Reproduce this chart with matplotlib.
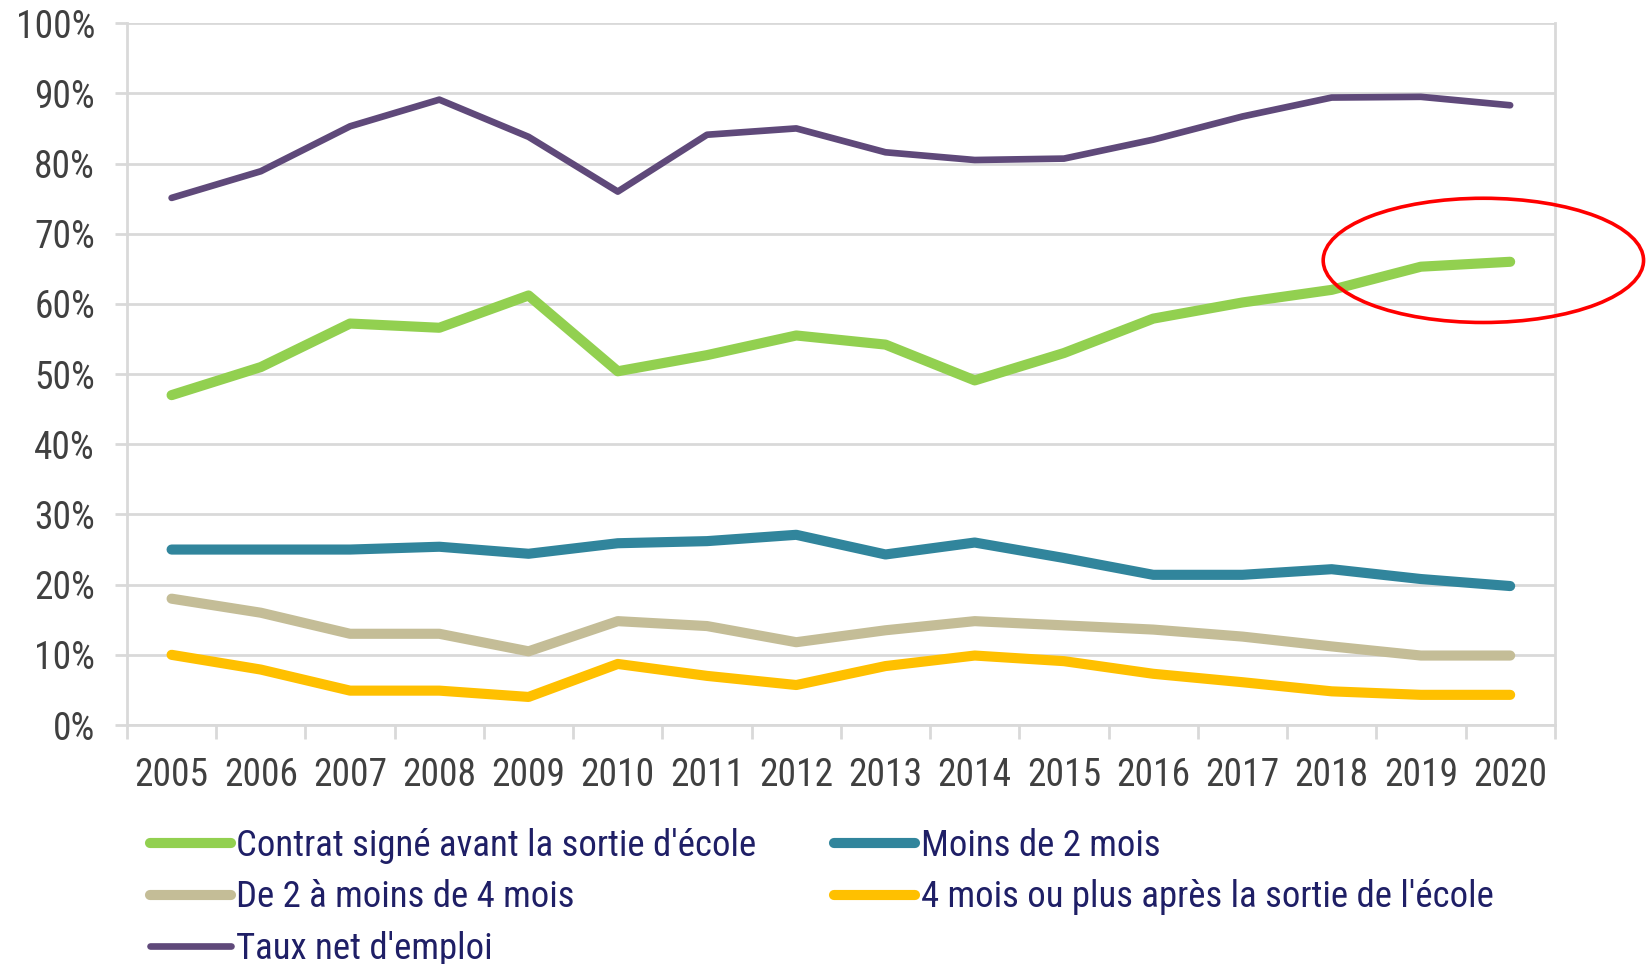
import numpy as np
import matplotlib.pyplot as plt
from matplotlib import font_manager
from matplotlib.patches import Ellipse
from matplotlib.ticker import FixedLocator, PercentFormatter

names = sorted({f.name for f in font_manager.fontManager.ttflist})
narrow = [n for n in ['Liberation Sans Narrow', 'DejaVu Sans Condensed', 'Roboto Condensed',
                      'Open Sans Condensed'] if n in names]
plt.rcParams['font.family'] = narrow + ['Liberation Sans', 'DejaVu Sans']

years = [str(y) for y in range(2005, 2021)]

taux_net = [75.1, 78.9, 85.3, 89.1, 83.8, 76.0, 84.1, 85.0, 81.6, 80.5, 80.7, 83.4, 86.7, 89.4, 89.5, 88.3]
contrat_avant = [47.0, 51.0, 57.2, 56.6, 61.2, 50.4, 52.7, 55.5, 54.2, 49.1, 53.0, 57.9, 60.2, 62.0, 65.3, 66.0]
moins_2_mois = [25.0, 25.0, 25.0, 25.4, 24.4, 25.9, 26.2, 27.1, 24.3, 26.0, 23.8, 21.4, 21.4, 22.2, 20.8, 19.8]
de_2_a_4_mois = [18.0, 16.0, 13.0, 13.0, 10.5, 14.8, 14.1, 11.8, 13.5, 14.8, 14.2, 13.6, 12.6, 11.2, 9.9, 9.9]
plus_4_mois = [10.0, 7.9, 4.9, 4.9, 4.0, 8.7, 7.0, 5.7, 8.4, 9.9, 9.1, 7.3, 6.1, 4.8, 4.3, 4.3]

fig = plt.figure(figsize=(16.47, 9.64), dpi=100)
ax = fig.add_axes([0.0771, 0.2479, 0.944 - 0.0771, 0.976 - 0.2479])

x = np.arange(len(years))
grid_col = '#d9d9d9'

l_green, = ax.plot(x, contrat_avant, color='#92D050', lw=7.3, solid_capstyle='round',
                   label="Contrat signé avant la sortie d'école", zorder=3)
l_teal, = ax.plot(x, moins_2_mois, color='#31859C', lw=7.3, solid_capstyle='round',
                  label='Moins de 2 mois', zorder=3)
l_beige, = ax.plot(x, de_2_a_4_mois, color='#C4BD97', lw=7.3, solid_capstyle='round',
                   label='De 2 à moins de 4 mois', zorder=3)
l_yellow, = ax.plot(x, plus_4_mois, color='#FFC000', lw=7.3, solid_capstyle='round',
                    label="4 mois ou plus après la sortie de l'école", zorder=3)
l_purple, = ax.plot(x, taux_net, color='#5F497A', lw=4.8, solid_capstyle='round',
                    label="Taux net d'emploi", zorder=3)

ax.set_xlim(-0.5, len(years) - 0.5)
ax.set_ylim(0, 100)
ax.set_yticks(np.arange(0, 101, 10))
ax.yaxis.set_major_formatter(PercentFormatter(decimals=0))
ax.set_xticks(x)
ax.set_xticklabels(years)
ax.xaxis.set_minor_locator(FixedLocator(np.arange(-0.5, len(years), 1.0)))

ax.grid(axis='y', color=grid_col, lw=2, zorder=0)
for side in ['left', 'right', 'bottom']:
    ax.spines[side].set_color(grid_col)
    ax.spines[side].set_linewidth(2)
ax.spines['top'].set_visible(False)

fs = 27 if narrow else 21
lfs = 26.5 if narrow else 20
ax.tick_params(axis='y', length=9, width=2, color=grid_col, labelsize=fs,
               labelcolor='#404040', pad=14)
ax.tick_params(axis='x', which='major', length=0, labelsize=fs, labelcolor='#404040', pad=23)
ax.tick_params(axis='x', which='minor', length=10, width=2, color=grid_col)

# red circle around the last two points
ell = Ellipse((14.7, 66.2), width=3.59, height=17.7, fill=False, edgecolor='#FF0000',
              lw=2.6, clip_on=False, zorder=4)
ax.add_patch(ell)

handles = [l_green, l_beige, l_purple, l_teal, l_yellow]
leg = fig.legend(handles=handles, labels=[h.get_label() for h in handles],
                 ncol=2, loc='upper left', bbox_to_anchor=(150 / 1647, 1 - 828 / 964),
                 frameon=False, fontsize=lfs, handlelength=2.2, handletextpad=0.15,
                 columnspacing=2.1, labelspacing=0.42, borderpad=0, borderaxespad=0)
for t in leg.get_texts():
    t.set_color('#1F1F66')

fig.savefig('out.png', dpi=100)
